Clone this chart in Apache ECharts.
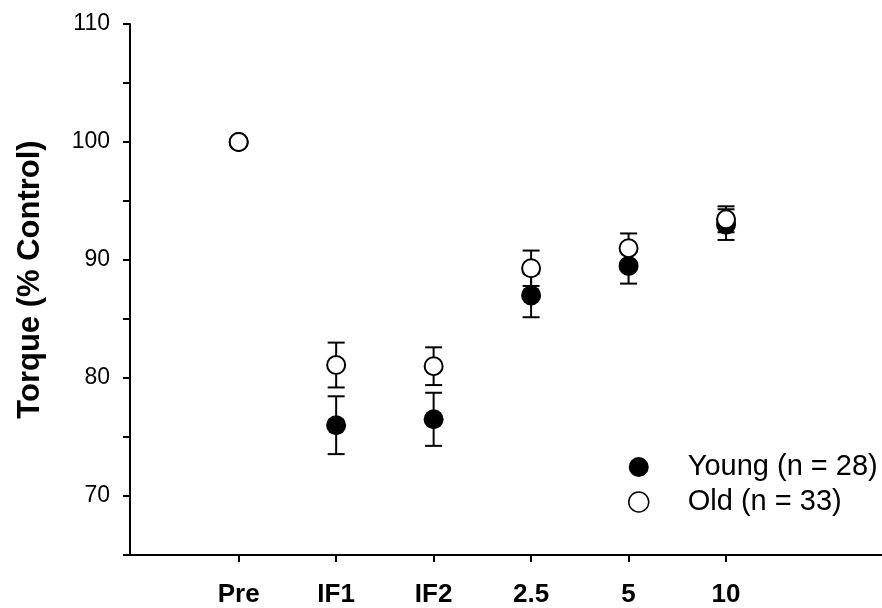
<!DOCTYPE html>
<html>
<head>
<meta charset="utf-8">
<script src="https://cdn.jsdelivr.net/npm/echarts@6/dist/echarts.min.js"></script>
<style>html,body{margin:0;padding:0;background:#fff}#c{width:882px;height:608px}</style>
</head>
<body>
<div id="c"></div>
<script>
var categories = ['Pre', 'IF1', 'IF2', '2.5', '5', '10'];
var categoryPos = [0, 1, 2, 3, 4, 5];
var youngValues = [100, 76.0, 76.5, 87.0, 89.5, 93.0];
var youngErr = [0, 2.45, 2.25, 1.85, 1.5, 1.3];
var oldValues = [100, 81.1, 81.0, 89.3, 91.0, 93.45];
var oldErr = [0, 1.9, 1.6, 1.5, 1.25, 1.1];
var yTicks = [70, 80, 90, 100, 110];
var youngName = 'Young (n = 28)';
var oldName = 'Old (n = 33)';

var FONT = '"Liberation Sans", Arial, sans-serif';

function pts(vals) { return categoryPos.map(function (x, i) { return [x, vals[i]]; }); }
function errData(vals, errs) { return categoryPos.map(function (x, i) { return [x, vals[i], errs[i]]; }); }

function renderErr(params, api) {
  var x = api.value(0), v = api.value(1), e = api.value(2);
  if (!e) return null;
  var top = api.coord([x, v + e]);
  var bot = api.coord([x, v - e]);
  var hw = 8.5;
  var st = { stroke: '#000', lineWidth: 2 };
  return {
    type: 'group',
    children: [
      { type: 'line', shape: { x1: top[0], y1: top[1], x2: bot[0], y2: bot[1] }, style: st },
      { type: 'line', shape: { x1: top[0] - hw, y1: top[1], x2: top[0] + hw, y2: top[1] }, style: st },
      { type: 'line', shape: { x1: bot[0] - hw, y1: bot[1], x2: bot[0] + hw, y2: bot[1] }, style: st }
    ]
  };
}

var chart = echarts.init(document.getElementById('c'));
chart.setOption({
  backgroundColor: '#fff',
  animation: false,
  grid: { left: 130, right: 0, top: 24, bottom: 53, containLabel: false },
  legend: {
    orient: 'vertical',
    left: 628,
    top: 452,
    padding: 0,
    itemWidth: 20,
    itemHeight: 20,
    itemGap: 5,
    textStyle: { fontFamily: FONT, fontSize: 29, color: '#000', lineHeight: 30, padding: [0, 0, 0, 34] },
    data: [
      { name: youngName, icon: 'circle', itemStyle: { color: '#000', borderWidth: 0 } },
      { name: oldName, icon: 'circle', itemStyle: { color: '#fff', borderColor: '#000', borderWidth: 1.5 } }
    ]
  },
  xAxis: {
    type: 'value',
    min: -1.115,
    max: 6.6,
    splitLine: { show: false },
    axisLine: { show: true, onZero: false, lineStyle: { color: '#000', width: 2 } },
    axisTick: { show: true, customValues: categoryPos, length: 7, lineStyle: { color: '#000', width: 2 } },
    axisLabel: {
      customValues: categoryPos,
      margin: 27,
      fontFamily: FONT, fontSize: 26, fontWeight: 'bold', color: '#000',
      formatter: function (v) { var i = categoryPos.indexOf(Math.round(v)); return i >= 0 ? categories[i] : ''; }
    }
  },
  yAxis: {
    type: 'value',
    min: 65,
    max: 110,
    interval: 5,
    name: 'Torque (% Control)',
    nameLocation: 'middle',
    nameGap: 84,
    nameTextStyle: { fontFamily: FONT, fontSize: 31, fontWeight: 'bold', color: '#000', padding: [0, 0, 0, 20] },
    splitLine: { show: false },
    axisLine: { show: true, onZero: false, lineStyle: { color: '#000', width: 2 } },
    axisTick: { show: true, length: 7, lineStyle: { color: '#000', width: 2 } },
    axisLabel: {
      margin: 20,
      fontFamily: FONT, fontSize: 23, color: '#000',
      formatter: function (v) { return yTicks.indexOf(v) >= 0 ? String(v) : ''; }
    }
  },
  series: [
    { type: 'custom', name: 'youngErr', renderItem: renderErr, data: errData(youngValues, youngErr), z: 2 },
    { type: 'scatter', name: youngName, data: pts(youngValues), symbol: 'circle', symbolSize: 20,
      itemStyle: { color: '#000', opacity: 1 }, z: 3 },
    { type: 'custom', name: 'oldErr', renderItem: renderErr, data: errData(oldValues, oldErr), z: 4 },
    { type: 'scatter', name: oldName, data: pts(oldValues), symbol: 'circle', symbolSize: 18,
      itemStyle: { color: '#fff', borderColor: '#000', borderWidth: 2, opacity: 1 }, z: 5 }
  ]
});
</script>
</body>
</html>
